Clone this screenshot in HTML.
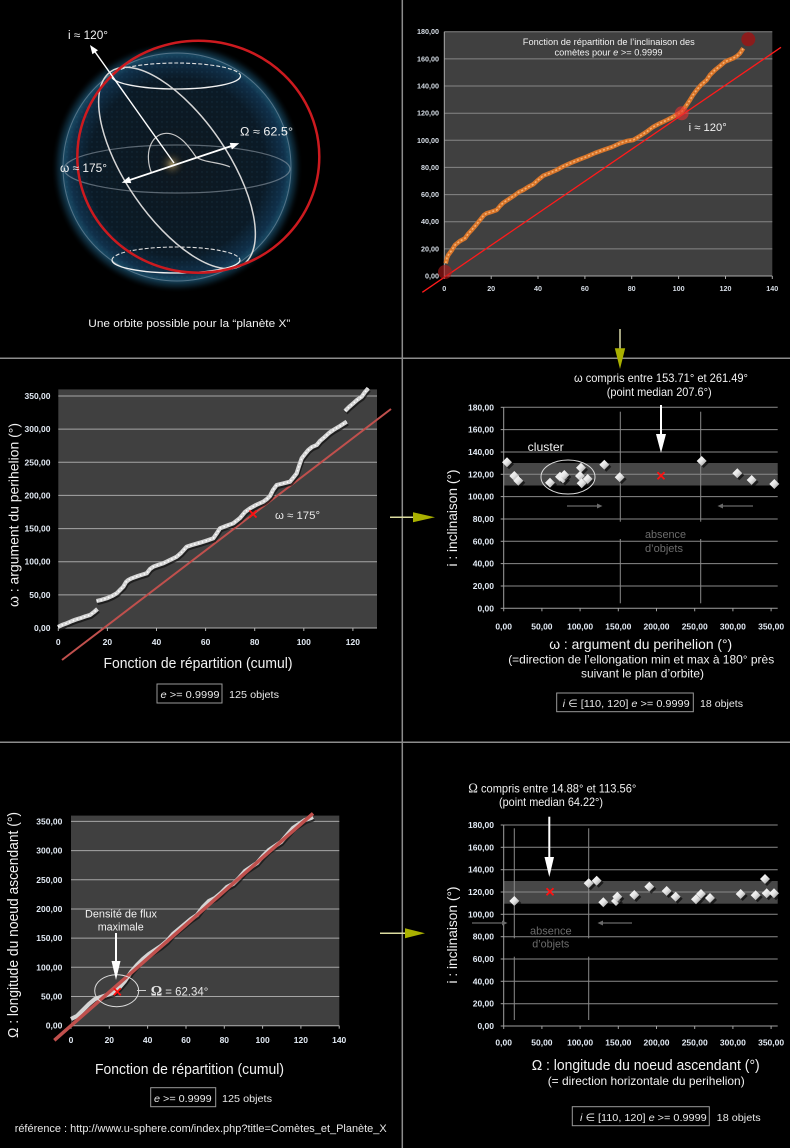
<!DOCTYPE html>
<html><head><meta charset="utf-8">
<style>
html,body{margin:0;padding:0;background:#000;}
svg{display:block;}
text{font-family:"Liberation Sans","DejaVu Sans",sans-serif;}
.ta{font-size:7.2px;font-weight:bold;fill:#d6dde6;}
.tb{font-size:8.5px;font-weight:bold;fill:#e2eaf4;}
.w{fill:#f2f2f2;}
</style></head><body>
<svg width="790" height="1148" viewBox="0 0 790 1148" xmlns="http://www.w3.org/2000/svg">
<defs>
 <radialGradient id="sph" cx="0.5" cy="0.5" r="0.5">
  <stop offset="0" stop-color="#0e1820"/>
  <stop offset="0.7" stop-color="#0b1a26"/>
  <stop offset="0.85" stop-color="#10304a"/>
  <stop offset="0.9" stop-color="#184862"/>
  <stop offset="0.95" stop-color="#0e2e40" stop-opacity="0.55"/>
  <stop offset="1" stop-color="#000" stop-opacity="0"/>
 </radialGradient>
 <radialGradient id="sun" cx="0.5" cy="0.5" r="0.5">
  <stop offset="0" stop-color="#b8a46a" stop-opacity="0.85"/>
  <stop offset="0.4" stop-color="#6e6040" stop-opacity="0.45"/>
  <stop offset="1" stop-color="#000" stop-opacity="0"/>
 </radialGradient>
 <pattern id="dots" width="5" height="5" patternUnits="userSpaceOnUse">
  <circle cx="2" cy="2" r="0.7" fill="#3a7ca0"/>
 </pattern>
 <clipPath id="sc"><circle cx="177" cy="167" r="116"/></clipPath>
 <linearGradient id="dg" x1="0" y1="0" x2="1" y2="1">
  <stop offset="0" stop-color="#ffffff"/>
  <stop offset="0.5" stop-color="#e6e6e6"/>
  <stop offset="1" stop-color="#8a8a8a"/>
 </linearGradient>
 <g id="dm">
  <polygon points="2,-3 7,2 2,7 -3,2" fill="#000" opacity="0.6"/>
  <polygon points="0,-5 5,0 0,5 -5,0" fill="url(#dg)"/>
 </g>
</defs>

<!-- ============ SPHERE ============ -->
<circle cx="177" cy="167" r="126" fill="url(#sph)"/>
<circle cx="177" cy="167" r="114" fill="url(#dots)" opacity="0.2" clip-path="url(#sc)"/>
<circle cx="172" cy="164" r="14" fill="url(#sun)"/>
<circle cx="177" cy="167" r="114" fill="none" stroke="#8fa2b2" stroke-width="1" opacity="0.5"/>
<ellipse cx="177" cy="169" rx="113" ry="24" fill="none" stroke="#9aa6b0" stroke-width="1.2" opacity="0.55"/>
<path d="M111.5,76 A64.5,13 0 0 0 240.5,76" fill="none" stroke="#f0f0f0" stroke-width="1.3"/>
<path d="M111.5,76 A64.5,13 0 0 1 240.5,76" fill="none" stroke="#e0e0e0" stroke-width="1.1" stroke-dasharray="4 2"/>
<path d="M112,260 A64,13 0 0 0 240,260" fill="none" stroke="#f0f0f0" stroke-width="1.3"/>
<path d="M112,260 A64,13 0 0 1 240,260" fill="none" stroke="#e0e0e0" stroke-width="1.1" stroke-dasharray="4 2"/>
<ellipse cx="177" cy="168" rx="117" ry="51" transform="rotate(55.6 177 168)" fill="none" stroke="#d6d6d6" stroke-width="1.5"/>
<path d="M151.7,173.3 C144,155 150,134 166,133.3 C180,133 190,148 196,157 C205,163 220,162 230,167" fill="none" stroke="#c8c8c8" stroke-width="1.2"/>
<ellipse cx="198.3" cy="156.7" rx="121" ry="116" fill="none" stroke="#cc1a1f" stroke-width="2.5"/>
<line x1="174" y1="163" x2="93" y2="49" stroke="#fff" stroke-width="1.4"/>
<polygon points="90,45 98,50.3 92.4,54.3" fill="#fff"/>
<line x1="127" y1="180.9" x2="234" y2="145.1" stroke="#fff" stroke-width="1.8"/>
<polygon points="239.3,143.3 231.9,149.5 229.7,142.9" fill="#fff"/>
<polygon points="121.7,182.7 131.3,183.1 129.1,176.5" fill="#fff"/>
<text x="68" y="39" font-size="11.5" class="w" textLength="40" lengthAdjust="spacingAndGlyphs">i ≈ 120°</text>
<text x="240" y="135.5" font-size="11.5" class="w" textLength="53" lengthAdjust="spacingAndGlyphs">Ω ≈ 62.5°</text>
<text x="60" y="172" font-size="11.5" class="w" textLength="47" lengthAdjust="spacingAndGlyphs">ω ≈ 175°</text>
<text x="88.3" y="327" font-size="11" class="w" textLength="202" lengthAdjust="spacingAndGlyphs">Une orbite possible pour la “planète X”</text>

<!-- ============ CHART A (top right) ============ -->
<rect x="444.3" y="31.7" width="328" height="244.3" fill="#404040"/>
<g stroke="#868686" stroke-width="1">
 <line x1="444.3" y1="248.9" x2="772.3" y2="248.9"/>
 <line x1="444.3" y1="221.7" x2="772.3" y2="221.7"/>
 <line x1="444.3" y1="194.6" x2="772.3" y2="194.6"/>
 <line x1="444.3" y1="167.4" x2="772.3" y2="167.4"/>
 <line x1="444.3" y1="140.3" x2="772.3" y2="140.3"/>
 <line x1="444.3" y1="113.2" x2="772.3" y2="113.2"/>
 <line x1="444.3" y1="86" x2="772.3" y2="86"/>
 <line x1="444.3" y1="58.9" x2="772.3" y2="58.9"/>
 <line x1="444.3" y1="31.7" x2="772.3" y2="31.7"/>
</g>
<g stroke="#aaa" stroke-width="1">
 <line x1="444.3" y1="31.7" x2="444.3" y2="276"/>
 <line x1="444.3" y1="276" x2="772.3" y2="276"/>
 <line x1="444.3" y1="276" x2="444.3" y2="279"/><line x1="491.2" y1="276" x2="491.2" y2="279"/>
 <line x1="538" y1="276" x2="538" y2="279"/><line x1="584.9" y1="276" x2="584.9" y2="279"/>
 <line x1="631.7" y1="276" x2="631.7" y2="279"/><line x1="678.6" y1="276" x2="678.6" y2="279"/>
 <line x1="725.5" y1="276" x2="725.5" y2="279"/><line x1="772.3" y1="276" x2="772.3" y2="279"/>
</g>
<g class="ta" text-anchor="end">
 <text x="439" y="278.5">0,00</text><text x="439" y="251.4">20,00</text><text x="439" y="224.2">40,00</text>
 <text x="439" y="197.1">60,00</text><text x="439" y="169.9">80,00</text><text x="439" y="142.8">100,00</text>
 <text x="439" y="115.7">120,00</text><text x="439" y="88.5">140,00</text><text x="439" y="61.4">160,00</text>
 <text x="439" y="34.2">180,00</text>
</g>
<g class="ta" text-anchor="middle">
 <text x="444.3" y="291">0</text><text x="491.2" y="291">20</text><text x="538" y="291">40</text>
 <text x="584.9" y="291">60</text><text x="631.7" y="291">80</text><text x="678.6" y="291">100</text>
 <text x="725.5" y="291">120</text><text x="772.3" y="291">140</text>
</g>
<text x="608.8" y="45" font-size="9" class="w" text-anchor="middle" textLength="172" lengthAdjust="spacingAndGlyphs">Fonction de répartition de l’inclinaison des</text>
<text x="608.5" y="55.5" font-size="9" class="w" text-anchor="middle" textLength="108" lengthAdjust="spacingAndGlyphs">comètes pour <tspan font-style="italic">e</tspan> &gt;= 0.9999</text>
<polyline fill="none" stroke="#d8752a" stroke-width="4.5" stroke-linejoin="round" points="445.7,263.3 447,258 448.3,255 452,250 455,245 460,241 465,238.3 468,234 471.7,230 476,225 480,220 484,215 486.7,213.3 491,212 496.7,210 500,206 503.3,202.7 509,199 515,195 519,192 523.3,190 528,187 533.3,184.3 538,180 543.3,175.7 550,173 556.7,170 563,166.5 570,163.3 578,160 586.7,156.7 595,153 603.3,150 612,147 620,143.3 627,141 633.3,140 640,136 646.7,131.7 653,127 660,123.3 667,120 673.3,116.7 678,114 681.7,111.7 686,106 690,100 693,95 696.7,90 701,85 706.7,80 710,75 715,70 720,66 725,61.7 729,60 733.3,58.3 737,56 740,53.3 743.3,48.3"/>
<polyline fill="none" stroke="#f7b070" stroke-width="1.6" stroke-dasharray="2 2" points="445.7,263.3 447,258 448.3,255 452,250 455,245 460,241 465,238.3 468,234 471.7,230 476,225 480,220 484,215 486.7,213.3 491,212 496.7,210 500,206 503.3,202.7 509,199 515,195 519,192 523.3,190 528,187 533.3,184.3 538,180 543.3,175.7 550,173 556.7,170 563,166.5 570,163.3 578,160 586.7,156.7 595,153 603.3,150 612,147 620,143.3 627,141 633.3,140 640,136 646.7,131.7 653,127 660,123.3 667,120 673.3,116.7 678,114 681.7,111.7 686,106 690,100 693,95 696.7,90 701,85 706.7,80 710,75 715,70 720,66 725,61.7 729,60 733.3,58.3 737,56 740,53.3 743.3,48.3"/>
<line x1="422.3" y1="292.3" x2="781" y2="47.3" stroke="#ff1a1a" stroke-width="1.3"/>
<circle cx="445" cy="272" r="7" fill="#b41a1a" opacity="0.6"/>
<circle cx="681.7" cy="113.3" r="7" fill="#e83030" opacity="0.6"/>
<circle cx="748.3" cy="39.3" r="7" fill="#8b1c1c"/>
<text x="688.7" y="131" font-size="11" class="w" textLength="38" lengthAdjust="spacingAndGlyphs">i ≈ 120°</text>

<!-- ============ CHART B (middle left) ============ -->
<rect x="58.3" y="389.4" width="318.7" height="238.6" fill="#404040"/>
<g stroke="#a6a6a6" stroke-width="1">
 <line x1="58.3" y1="594.9" x2="377" y2="594.9"/><line x1="58.3" y1="561.7" x2="377" y2="561.7"/>
 <line x1="58.3" y1="528.6" x2="377" y2="528.6"/><line x1="58.3" y1="495.4" x2="377" y2="495.4"/>
 <line x1="58.3" y1="462.3" x2="377" y2="462.3"/><line x1="58.3" y1="429.1" x2="377" y2="429.1"/>
 <line x1="58.3" y1="396" x2="377" y2="396"/>
</g>
<g stroke="#b0b0b0" stroke-width="1">
 <line x1="58.3" y1="628" x2="377" y2="628"/>
 <line x1="58.3" y1="628" x2="58.3" y2="631"/><line x1="107.4" y1="628" x2="107.4" y2="631"/>
 <line x1="156.5" y1="628" x2="156.5" y2="631"/><line x1="205.6" y1="628" x2="205.6" y2="631"/>
 <line x1="254.7" y1="628" x2="254.7" y2="631"/><line x1="303.8" y1="628" x2="303.8" y2="631"/>
 <line x1="352.9" y1="628" x2="352.9" y2="631"/>
</g>
<g class="tb" text-anchor="end">
 <text x="50.5" y="631">0,00</text><text x="50.5" y="597.9">50,00</text><text x="50.5" y="564.7">100,00</text>
 <text x="50.5" y="531.6">150,00</text><text x="50.5" y="498.4">200,00</text><text x="50.5" y="465.3">250,00</text>
 <text x="50.5" y="432.1">300,00</text><text x="50.5" y="399">350,00</text>
</g>
<g class="tb" text-anchor="middle">
 <text x="58.3" y="645">0</text><text x="107.4" y="645">20</text><text x="156.5" y="645">40</text>
 <text x="205.6" y="645">60</text><text x="254.7" y="645">80</text><text x="303.8" y="645">100</text>
 <text x="352.9" y="645">120</text>
</g>
<line x1="62" y1="660" x2="391" y2="409" stroke="#c0504d" stroke-width="2"/>
<g fill="none" stroke-linejoin="round">
 <g stroke="#111" stroke-width="4" opacity="0.7" transform="translate(1,2)">
  <polyline points="58,627 62,625 66.7,623.3 72,621 76,619.5 80,618.3 85,616.5 90,615 94,612 97.5,609"/>
  <polyline points="96.5,601 101,600 106.7,598.3 112,596 116.7,593.3 120,590 123.3,586.7 126,582 128.3,580 131.7,578.3 138,576 146.7,573.3 150,569 153.3,566.7 158,565 163.3,563.3 170,560 176.7,556.7 181,553 186.7,546.7 192,545 200,542.7 207,540.5 213.3,538.3 217,533 220,528.3 226,526 233.3,523.3 240,518 245,512 250,508.3 256,505 263.3,501.7 267,499 270,496 273,490 276.7,485 283,483.5 290,481.7 293,478 296.7,473.3 299,466 301.7,458.3 305,454 308.3,450 312,447 316.7,445 320,441 325,436.7 329,433 333.3,430 340,426 346.7,421.7"/>
  <polyline points="345,411 349,407 353.3,403.3 357,400 361.7,396.7 365,392 368.3,388.3"/>
 </g>
 <g stroke="#d4d4d4" stroke-width="4.2">
  <polyline points="58,627 62,625 66.7,623.3 72,621 76,619.5 80,618.3 85,616.5 90,615 94,612 97.5,609"/>
  <polyline points="96.5,601 101,600 106.7,598.3 112,596 116.7,593.3 120,590 123.3,586.7 126,582 128.3,580 131.7,578.3 138,576 146.7,573.3 150,569 153.3,566.7 158,565 163.3,563.3 170,560 176.7,556.7 181,553 186.7,546.7 192,545 200,542.7 207,540.5 213.3,538.3 217,533 220,528.3 226,526 233.3,523.3 240,518 245,512 250,508.3 256,505 263.3,501.7 267,499 270,496 273,490 276.7,485 283,483.5 290,481.7 293,478 296.7,473.3 299,466 301.7,458.3 305,454 308.3,450 312,447 316.7,445 320,441 325,436.7 329,433 333.3,430 340,426 346.7,421.7"/>
  <polyline points="345,411 349,407 353.3,403.3 357,400 361.7,396.7 365,392 368.3,388.3"/>
 </g>
 <g stroke="#ffffff" stroke-width="1.5" stroke-dasharray="1.5 2.5">
  <polyline points="58,627 62,625 66.7,623.3 72,621 76,619.5 80,618.3 85,616.5 90,615 94,612 97.5,609"/>
  <polyline points="96.5,601 101,600 106.7,598.3 112,596 116.7,593.3 120,590 123.3,586.7 126,582 128.3,580 131.7,578.3 138,576 146.7,573.3 150,569 153.3,566.7 158,565 163.3,563.3 170,560 176.7,556.7 181,553 186.7,546.7 192,545 200,542.7 207,540.5 213.3,538.3 217,533 220,528.3 226,526 233.3,523.3 240,518 245,512 250,508.3 256,505 263.3,501.7 267,499 270,496 273,490 276.7,485 283,483.5 290,481.7 293,478 296.7,473.3 299,466 301.7,458.3 305,454 308.3,450 312,447 316.7,445 320,441 325,436.7 329,433 333.3,430 340,426 346.7,421.7"/>
  <polyline points="345,411 349,407 353.3,403.3 357,400 361.7,396.7 365,392 368.3,388.3"/>
 </g>
</g>
<g stroke="#ff1010" stroke-width="1.8"><line x1="249.5" y1="510.5" x2="256.5" y2="517.5"/><line x1="256.5" y1="510.5" x2="249.5" y2="517.5"/></g>
<text x="275" y="519" font-size="11" fill="#e8e8e8" textLength="45" lengthAdjust="spacingAndGlyphs">ω ≈ 175°</text>
<text transform="translate(18.5,515) rotate(-90)" x="0" y="0" font-size="14" class="w" text-anchor="middle" textLength="184" lengthAdjust="spacingAndGlyphs">ω : argument du perihelion (°)</text>
<text x="198" y="668" font-size="15" class="w" text-anchor="middle" textLength="189" lengthAdjust="spacingAndGlyphs">Fonction de répartition (cumul)</text>
<rect x="157" y="684" width="65" height="19" fill="none" stroke="#9a9a9a" stroke-width="1"/>
<text x="160.5" y="698" font-size="10.5" fill="#e8e8e8" textLength="59" lengthAdjust="spacingAndGlyphs"><tspan font-style="italic">e</tspan> &gt;= 0.9999</text>
<text x="229" y="698" font-size="10.5" fill="#e8e8e8" textLength="50" lengthAdjust="spacingAndGlyphs">125 objets</text>

<!-- ============ CHART C (middle right) ============ -->
<text x="574" y="382" font-size="12" class="w" textLength="174" lengthAdjust="spacingAndGlyphs">ω compris entre 153.71° et 261.49°</text>
<text x="606.7" y="396" font-size="12" class="w" textLength="105" lengthAdjust="spacingAndGlyphs">(point median 207.6°)</text>
<rect x="503.7" y="463" width="274" height="22.5" fill="#474747"/>
<g stroke="#8a8a8a" stroke-width="1">
 <line x1="503.7" y1="586" x2="777.7" y2="586"/><line x1="503.7" y1="563.6" x2="777.7" y2="563.6"/>
 <line x1="503.7" y1="541.3" x2="777.7" y2="541.3"/><line x1="503.7" y1="519" x2="777.7" y2="519"/>
 <line x1="503.7" y1="496.6" x2="777.7" y2="496.6"/><line x1="503.7" y1="474.3" x2="777.7" y2="474.3"/>
 <line x1="503.7" y1="452" x2="777.7" y2="452"/><line x1="503.7" y1="429.6" x2="777.7" y2="429.6"/>
 <line x1="503.7" y1="407.3" x2="777.7" y2="407.3"/>
 <line x1="620.3" y1="411.7" x2="620.3" y2="521.7"/><line x1="620.3" y1="539" x2="620.3" y2="603.3"/>
 <line x1="700.7" y1="411.7" x2="700.7" y2="521.7"/><line x1="700.7" y1="539" x2="700.7" y2="603.3"/>
</g>
<g stroke="#a0a0a0" stroke-width="1">
 <line x1="503.7" y1="407.3" x2="503.7" y2="608.3"/>
 <line x1="503.7" y1="608.3" x2="777.7" y2="608.3"/>
 <line x1="500.7" y1="608.3" x2="503.7" y2="608.3"/><line x1="500.7" y1="586" x2="503.7" y2="586"/>
 <line x1="500.7" y1="563.6" x2="503.7" y2="563.6"/><line x1="500.7" y1="541.3" x2="503.7" y2="541.3"/>
 <line x1="500.7" y1="519" x2="503.7" y2="519"/><line x1="500.7" y1="496.6" x2="503.7" y2="496.6"/>
 <line x1="500.7" y1="474.3" x2="503.7" y2="474.3"/><line x1="500.7" y1="452" x2="503.7" y2="452"/>
 <line x1="500.7" y1="429.6" x2="503.7" y2="429.6"/><line x1="500.7" y1="407.3" x2="503.7" y2="407.3"/>
 <line x1="503.7" y1="608.3" x2="503.7" y2="611.3"/><line x1="541.9" y1="608.3" x2="541.9" y2="611.3"/>
 <line x1="580.1" y1="608.3" x2="580.1" y2="611.3"/><line x1="618.3" y1="608.3" x2="618.3" y2="611.3"/>
 <line x1="656.5" y1="608.3" x2="656.5" y2="611.3"/><line x1="694.7" y1="608.3" x2="694.7" y2="611.3"/>
 <line x1="732.9" y1="608.3" x2="732.9" y2="611.3"/><line x1="771.1" y1="608.3" x2="771.1" y2="611.3"/>
</g>
<g class="tb" text-anchor="end">
 <text x="494" y="611.3">0,00</text><text x="494" y="589">20,00</text><text x="494" y="566.6">40,00</text>
 <text x="494" y="544.3">60,00</text><text x="494" y="522">80,00</text><text x="494" y="499.6">100,00</text>
 <text x="494" y="477.3">120,00</text><text x="494" y="455">140,00</text><text x="494" y="432.6">160,00</text>
 <text x="494" y="410.3">180,00</text>
</g>
<g class="tb" text-anchor="middle">
 <text x="503.7" y="629.7">0,00</text><text x="541.9" y="629.7">50,00</text><text x="580.1" y="629.7">100,00</text>
 <text x="618.3" y="629.7">150,00</text><text x="656.5" y="629.7">200,00</text><text x="694.7" y="629.7">250,00</text>
 <text x="732.9" y="629.7">300,00</text><text x="771.1" y="629.7">350,00</text>
</g>
<use href="#dm" x="507" y="462.3"/><use href="#dm" x="514.3" y="476"/><use href="#dm" x="518.3" y="480.7"/>
<use href="#dm" x="550" y="482.7"/><use href="#dm" x="560" y="476.7"/><use href="#dm" x="563" y="478.5"/>
<use href="#dm" x="564.3" y="475"/><use href="#dm" x="581" y="467.7"/><use href="#dm" x="580" y="476"/>
<use href="#dm" x="581.7" y="483.3"/><use href="#dm" x="587.7" y="479"/><use href="#dm" x="604.3" y="464.7"/>
<use href="#dm" x="619.7" y="477.3"/><use href="#dm" x="701.7" y="461"/><use href="#dm" x="737.3" y="473.3"/>
<use href="#dm" x="751.7" y="480"/><use href="#dm" x="774.3" y="484"/>
<ellipse cx="568" cy="477" rx="27" ry="17" fill="none" stroke="#dcdcdc" stroke-width="1"/>
<text x="527.7" y="451" font-size="12" class="w" textLength="36" lengthAdjust="spacingAndGlyphs">cluster</text>
<g stroke="#ff1010" stroke-width="1.8"><line x1="657.5" y1="472.2" x2="664.5" y2="479.2"/><line x1="664.5" y1="472.2" x2="657.5" y2="479.2"/></g>
<line x1="661" y1="405" x2="661" y2="436" stroke="#fff" stroke-width="2"/>
<polygon points="656,434 666,434 661,453" fill="#fff"/>
<g stroke="#6a6a6a" stroke-width="1.2" fill="#6a6a6a">
 <line x1="567" y1="506" x2="598" y2="506"/><polygon points="597,503.5 602.5,506 597,508.5" stroke="none"/>
 <line x1="753" y1="506" x2="722" y2="506"/><polygon points="723,503.5 717.5,506 723,508.5" stroke="none"/>
</g>
<text x="645" y="538" font-size="11" fill="#6c6c6c" textLength="41" lengthAdjust="spacingAndGlyphs">absence</text>
<text x="645" y="552" font-size="11" fill="#6c6c6c" textLength="38" lengthAdjust="spacingAndGlyphs">d’objets</text>
<text transform="translate(457,518) rotate(-90)" x="0" y="0" font-size="14" class="w" text-anchor="middle" textLength="97" lengthAdjust="spacingAndGlyphs">i : inclinaison (°)</text>
<text x="640.7" y="649" font-size="14" class="w" text-anchor="middle" textLength="183" lengthAdjust="spacingAndGlyphs">ω : argument du perihelion (°)</text>
<text x="641.2" y="663.5" font-size="12" class="w" text-anchor="middle" textLength="266" lengthAdjust="spacingAndGlyphs">(=direction de l’ellongation min et max à 180° près</text>
<text x="642.5" y="677.5" font-size="12" class="w" text-anchor="middle" textLength="123" lengthAdjust="spacingAndGlyphs">suivant le plan d’orbite)</text>
<rect x="556.7" y="693" width="136.6" height="18.7" fill="none" stroke="#9a9a9a" stroke-width="1"/>
<text x="562.7" y="707" font-size="10.5" fill="#e8e8e8" textLength="127" lengthAdjust="spacingAndGlyphs"><tspan font-style="italic">i</tspan> ∈ [110, 120] <tspan font-style="italic">e</tspan> &gt;= 0.9999</text>
<text x="700" y="707" font-size="10.5" fill="#e8e8e8" textLength="43" lengthAdjust="spacingAndGlyphs">18 objets</text>

<!-- ============ CHART D (bottom left) ============ -->
<rect x="71" y="815.6" width="268.3" height="210.1" fill="#404040"/>
<g stroke="#a6a6a6" stroke-width="1">
 <line x1="71" y1="996.5" x2="339.3" y2="996.5"/><line x1="71" y1="967.3" x2="339.3" y2="967.3"/>
 <line x1="71" y1="938.1" x2="339.3" y2="938.1"/><line x1="71" y1="909" x2="339.3" y2="909"/>
 <line x1="71" y1="879.8" x2="339.3" y2="879.8"/><line x1="71" y1="850.6" x2="339.3" y2="850.6"/>
 <line x1="71" y1="821.4" x2="339.3" y2="821.4"/>
</g>
<g stroke="#b0b0b0" stroke-width="1">
 <line x1="71" y1="1025.7" x2="339.3" y2="1025.7"/>
 <line x1="71" y1="1025.7" x2="71" y2="1028.7"/><line x1="109.3" y1="1025.7" x2="109.3" y2="1028.7"/>
 <line x1="147.6" y1="1025.7" x2="147.6" y2="1028.7"/><line x1="186" y1="1025.7" x2="186" y2="1028.7"/>
 <line x1="224.3" y1="1025.7" x2="224.3" y2="1028.7"/><line x1="262.6" y1="1025.7" x2="262.6" y2="1028.7"/>
 <line x1="300.9" y1="1025.7" x2="300.9" y2="1028.7"/><line x1="339.2" y1="1025.7" x2="339.2" y2="1028.7"/>
</g>
<g class="tb" text-anchor="end">
 <text x="62.3" y="1028.7">0,00</text><text x="62.3" y="999.5">50,00</text><text x="62.3" y="970.3">100,00</text>
 <text x="62.3" y="941.1">150,00</text><text x="62.3" y="912">200,00</text><text x="62.3" y="882.8">250,00</text>
 <text x="62.3" y="853.6">300,00</text><text x="62.3" y="824.4">350,00</text>
</g>
<g class="tb" text-anchor="middle">
 <text x="71" y="1043">0</text><text x="109.3" y="1043">20</text><text x="147.6" y="1043">40</text>
 <text x="186" y="1043">60</text><text x="224.3" y="1043">80</text><text x="262.6" y="1043">100</text>
 <text x="300.9" y="1043">120</text><text x="339.2" y="1043">140</text>
</g>
<g fill="none" stroke-linejoin="round">
 <polyline stroke="#111" stroke-width="4" opacity="0.7" transform="translate(1,2)" points="71,1019 77,1016 83,1010 89,1004 95,999 101,997 107,995 113,993 119,988 125,981 131,972 137,965 143,959 149,954 155,950 161,946 167,941 173,934 179,929 185,924 191,919 197,915 203,907 209,901 215,898 221,893 227,887 233,884 239,878 245,871 251,867 257,863 263,856 269,850 275,846 281,842 287,835 293,828 299,824 305,820 311,818 313,817"/>
 <polyline stroke="#d4d4d4" stroke-width="4.2" points="71,1019 77,1016 83,1010 89,1004 95,999 101,997 107,995 113,993 119,988 125,981 131,972 137,965 143,959 149,954 155,950 161,946 167,941 173,934 179,929 185,924 191,919 197,915 203,907 209,901 215,898 221,893 227,887 233,884 239,878 245,871 251,867 257,863 263,856 269,850 275,846 281,842 287,835 293,828 299,824 305,820 311,818 313,817"/>
</g>
<line x1="54.3" y1="1040.3" x2="313" y2="813.4" stroke="#c0504d" stroke-width="3.5"/>
<ellipse cx="116.7" cy="990.7" rx="22" ry="16" fill="none" stroke="#dcdcdc" stroke-width="1"/>
<line x1="137" y1="990.5" x2="146" y2="990.5" stroke="#cfcfcf" stroke-width="1"/>
<g stroke="#ff1010" stroke-width="1.8"><line x1="113.8" y1="988.2" x2="120.8" y2="995.2"/><line x1="120.8" y1="988.2" x2="113.8" y2="995.2"/></g>
<line x1="116" y1="933" x2="116" y2="963" stroke="#fff" stroke-width="2"/>
<polygon points="111.5,961 120.5,961 116,980" fill="#fff"/>
<text x="85" y="917.5" font-size="11" class="w" textLength="72" lengthAdjust="spacingAndGlyphs">Densité de flux</text>
<text x="97.7" y="930.5" font-size="11" class="w" textLength="46" lengthAdjust="spacingAndGlyphs">maximale</text>
<text x="150.7" y="995.5" font-size="12" fill="#e8e8e8" textLength="57.6" lengthAdjust="spacingAndGlyphs"><tspan font-family="Liberation Serif, serif" font-size="15" font-weight="bold">Ω</tspan> = 62.34°</text>
<text transform="translate(18,925) rotate(-90)" x="0" y="0" font-size="14.5" class="w" text-anchor="middle" textLength="226" lengthAdjust="spacingAndGlyphs">Ω : longitude du noeud ascendant (°)</text>
<text x="189.5" y="1074" font-size="15" class="w" text-anchor="middle" textLength="189" lengthAdjust="spacingAndGlyphs">Fonction de répartition (cumul)</text>
<rect x="150.7" y="1087.7" width="65" height="19" fill="none" stroke="#9a9a9a" stroke-width="1"/>
<text x="154" y="1102" font-size="10.5" fill="#e8e8e8" textLength="57.7" lengthAdjust="spacingAndGlyphs"><tspan font-style="italic">e</tspan> &gt;= 0.9999</text>
<text x="222" y="1102" font-size="10.5" fill="#e8e8e8" textLength="50" lengthAdjust="spacingAndGlyphs">125 objets</text>
<text x="14.7" y="1132" font-size="11" fill="#e8e8e8" textLength="372" lengthAdjust="spacingAndGlyphs">référence : http://www.u-sphere.com/index.php?title=Comètes_et_Planète_X</text>

<!-- ============ CHART E (bottom right) ============ -->
<text x="468.3" y="792.5" font-size="12" class="w" textLength="168" lengthAdjust="spacingAndGlyphs"><tspan font-family="Liberation Serif, serif" font-size="14">Ω</tspan> compris entre 14.88° et 113.56°</text>
<text x="499" y="806" font-size="12" class="w" textLength="104" lengthAdjust="spacingAndGlyphs">(point median 64.22°)</text>
<rect x="503.7" y="881" width="274" height="22.7" fill="#474747"/>
<g stroke="#8a8a8a" stroke-width="1">
 <line x1="503.7" y1="1003.7" x2="777.7" y2="1003.7"/><line x1="503.7" y1="981.3" x2="777.7" y2="981.3"/>
 <line x1="503.7" y1="959" x2="777.7" y2="959"/><line x1="503.7" y1="936.7" x2="777.7" y2="936.7"/>
 <line x1="503.7" y1="914.3" x2="777.7" y2="914.3"/><line x1="503.7" y1="892" x2="777.7" y2="892"/>
 <line x1="503.7" y1="869.7" x2="777.7" y2="869.7"/><line x1="503.7" y1="847.3" x2="777.7" y2="847.3"/>
 <line x1="503.7" y1="825" x2="777.7" y2="825"/>
 <line x1="514.3" y1="828.3" x2="514.3" y2="938.3"/><line x1="514.3" y1="956.7" x2="514.3" y2="1020"/>
 <line x1="588.7" y1="828.3" x2="588.7" y2="938.3"/><line x1="588.7" y1="956.7" x2="588.7" y2="1020"/>
</g>
<g stroke="#a0a0a0" stroke-width="1">
 <line x1="503.7" y1="825" x2="503.7" y2="1026"/>
 <line x1="503.7" y1="1026" x2="777.7" y2="1026"/>
 <line x1="500.7" y1="1026" x2="503.7" y2="1026"/><line x1="500.7" y1="1003.7" x2="503.7" y2="1003.7"/>
 <line x1="500.7" y1="981.3" x2="503.7" y2="981.3"/><line x1="500.7" y1="959" x2="503.7" y2="959"/>
 <line x1="500.7" y1="936.7" x2="503.7" y2="936.7"/><line x1="500.7" y1="914.3" x2="503.7" y2="914.3"/>
 <line x1="500.7" y1="892" x2="503.7" y2="892"/><line x1="500.7" y1="869.7" x2="503.7" y2="869.7"/>
 <line x1="500.7" y1="847.3" x2="503.7" y2="847.3"/><line x1="500.7" y1="825" x2="503.7" y2="825"/>
 <line x1="503.7" y1="1026" x2="503.7" y2="1029"/><line x1="541.9" y1="1026" x2="541.9" y2="1029"/>
 <line x1="580.1" y1="1026" x2="580.1" y2="1029"/><line x1="618.3" y1="1026" x2="618.3" y2="1029"/>
 <line x1="656.5" y1="1026" x2="656.5" y2="1029"/><line x1="694.7" y1="1026" x2="694.7" y2="1029"/>
 <line x1="732.9" y1="1026" x2="732.9" y2="1029"/><line x1="771.1" y1="1026" x2="771.1" y2="1029"/>
</g>
<g class="tb" text-anchor="end">
 <text x="494" y="1029">0,00</text><text x="494" y="1006.7">20,00</text><text x="494" y="984.3">40,00</text>
 <text x="494" y="962">60,00</text><text x="494" y="939.7">80,00</text><text x="494" y="917.3">100,00</text>
 <text x="494" y="895">120,00</text><text x="494" y="872.7">140,00</text><text x="494" y="850.3">160,00</text>
 <text x="494" y="828">180,00</text>
</g>
<g class="tb" text-anchor="middle">
 <text x="503.7" y="1045.3">0,00</text><text x="541.9" y="1045.3">50,00</text><text x="580.1" y="1045.3">100,00</text>
 <text x="618.3" y="1045.3">150,00</text><text x="656.5" y="1045.3">200,00</text><text x="694.7" y="1045.3">250,00</text>
 <text x="732.9" y="1045.3">300,00</text><text x="771.1" y="1045.3">350,00</text>
</g>
<use href="#dm" x="514.3" y="901"/><use href="#dm" x="588.7" y="883.3"/><use href="#dm" x="596.7" y="880.7"/>
<use href="#dm" x="603.3" y="902.3"/><use href="#dm" x="616" y="901"/><use href="#dm" x="617.3" y="896.7"/>
<use href="#dm" x="634.3" y="895"/><use href="#dm" x="649.3" y="886.7"/><use href="#dm" x="666.7" y="891"/>
<use href="#dm" x="675.7" y="896.7"/><use href="#dm" x="696" y="899.3"/><use href="#dm" x="701" y="894"/>
<use href="#dm" x="710" y="898"/><use href="#dm" x="740.7" y="894"/><use href="#dm" x="755.7" y="895.3"/>
<use href="#dm" x="765" y="879"/><use href="#dm" x="766.7" y="893.3"/><use href="#dm" x="774" y="893.3"/>
<g stroke="#ff1010" stroke-width="1.8"><line x1="546.5" y1="888.2" x2="553.5" y2="895.2"/><line x1="553.5" y1="888.2" x2="546.5" y2="895.2"/></g>
<line x1="549.3" y1="816.7" x2="549.3" y2="859" stroke="#fff" stroke-width="2"/>
<polygon points="544.5,857 554,857 549.3,877" fill="#fff"/>
<g stroke="#6a6a6a" stroke-width="1.2" fill="#6a6a6a">
 <line x1="472" y1="923" x2="503" y2="923"/><polygon points="502,920.5 507.5,923 502,925.5" stroke="none"/>
 <line x1="632" y1="923" x2="602" y2="923"/><polygon points="603,920.5 597.5,923 603,925.5" stroke="none"/>
</g>
<text x="530" y="934.5" font-size="11" fill="#6c6c6c" textLength="41.7" lengthAdjust="spacingAndGlyphs">absence</text>
<text x="532.3" y="947.5" font-size="11" fill="#6c6c6c" textLength="37" lengthAdjust="spacingAndGlyphs">d’objets</text>
<text transform="translate(457,935) rotate(-90)" x="0" y="0" font-size="14" class="w" text-anchor="middle" textLength="97" lengthAdjust="spacingAndGlyphs">i : inclinaison (°)</text>
<text x="531.7" y="1070" font-size="14.5" class="w" textLength="228" lengthAdjust="spacingAndGlyphs">Ω : longitude du noeud ascendant (°)</text>
<text x="547.7" y="1085" font-size="12" class="w" textLength="197" lengthAdjust="spacingAndGlyphs">(= direction horizontale du perihelion)</text>
<rect x="572.3" y="1106.7" width="137" height="19" fill="none" stroke="#9a9a9a" stroke-width="1"/>
<text x="580" y="1121" font-size="10.5" fill="#e8e8e8" textLength="126.7" lengthAdjust="spacingAndGlyphs"><tspan font-style="italic">i</tspan> ∈ [110, 120] <tspan font-style="italic">e</tspan> &gt;= 0.9999</text>
<text x="716.7" y="1121" font-size="10.5" fill="#e8e8e8" textLength="44" lengthAdjust="spacingAndGlyphs">18 objets</text>

<!-- ============ DIVIDERS ============ -->
<g stroke="#8c8c8c" stroke-width="1.5">
 <line x1="402.3" y1="0" x2="402.3" y2="1148"/>
 <line x1="0" y1="358.3" x2="790" y2="358.3"/>
 <line x1="0" y1="742.3" x2="790" y2="742.3"/>
</g>

<!-- ============ OLIVE ARROWS ============ -->
<line x1="620" y1="329" x2="620" y2="350" stroke="#d8d8a8" stroke-width="1.5"/>
<polygon points="614.8,348.3 625.2,348.3 620,369" fill="#a9b000"/>
<line x1="390" y1="517.3" x2="414" y2="517.3" stroke="#dcdca0" stroke-width="1.5"/>
<polygon points="413,512.3 413,522.3 435,517.3" fill="#a9b000"/>
<line x1="380" y1="933.3" x2="406" y2="933.3" stroke="#dcdca0" stroke-width="1.5"/>
<polygon points="405,928.3 405,938.3 425,933.3" fill="#a9b000"/>
</svg>
</body></html>
